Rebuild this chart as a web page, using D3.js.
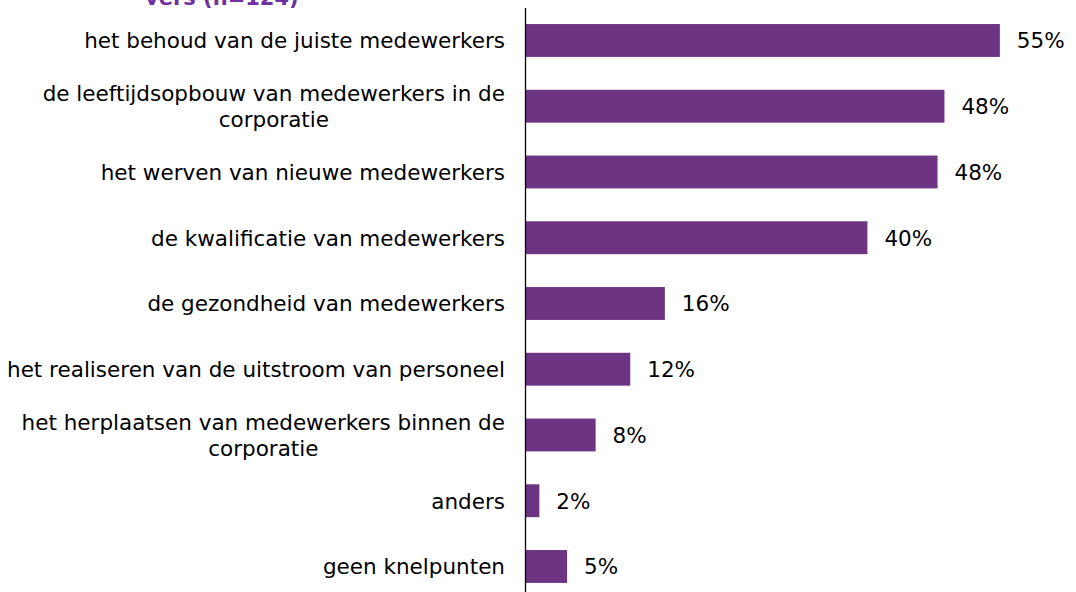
<!DOCTYPE html>
<html>
<head>
<meta charset="utf-8">
<script src="https://cdn.jsdelivr.net/npm/d3@7"></script>
<style>
  html, body { margin: 0; padding: 0; background: #ffffff; }
  svg { display: block; }
</style>
</head>
<body>
<svg id="chart" width="1076" height="592"></svg>
<script>
// Knelpunten personeelsbeleid, percentage van corporaties
const categories = [
  "het behoud van de juiste medewerkers",
  "de leeftijdsopbouw van medewerkers in de corporatie",
  "het werven van nieuwe medewerkers",
  "de kwalificatie van medewerkers",
  "de gezondheid van medewerkers",
  "het realiseren van de uitstroom van personeel",
  "het herplaatsen van medewerkers binnen de corporatie",
  "anders",
  "geen knelpunten"
];
const percentages = [54.8, 48.4, 47.6, 39.5, 16.1, 12.1, 8.1, 1.6, 4.8];
const titleTail = "vers (n=124)";

const W = 1076, H = 592;
const barColor = "#6c3483";
const titleColor = "#7030a0";
const fontFamily = "'DejaVu Sans', Verdana, sans-serif";
const fontSize = 21.5;

const svg = d3.select("#chart");

const axisX = 525.5;
const x = d3.scaleLinear().domain([0, 60]).range([axisX, axisX + 60 * 8.656]);
const y = d3.scaleBand().domain(categories).range([7.6, 7.6 + 9 * 65.75]).paddingInner(0.5).paddingOuter(0.25);

// title line, running off the top edge
svg.append("text")
  .attr("x", 145).attr("y", 5)
  .attr("font-family", fontFamily).attr("font-size", 21).attr("font-weight", "bold")
  .attr("fill", titleColor)
  .text(titleTail);

// bars
svg.selectAll("rect.bar").data(categories).join("rect")
  .attr("class", "bar")
  .attr("x", x(0))
  .attr("y", d => y(d))
  .attr("width", (d, i) => x(percentages[i]) - x(0))
  .attr("height", y.bandwidth())
  .attr("fill", barColor);

// vertical category axis line
svg.append("line")
  .attr("x1", axisX).attr("x2", axisX)
  .attr("y1", 8).attr("y2", H)
  .attr("stroke", "#000").attr("stroke-width", 1.3);

// value labels
const fmt = v => Math.round(v) + "%";
svg.selectAll("text.val").data(categories).join("text")
  .attr("class", "val")
  .attr("x", (d, i) => x(percentages[i]) + 17)
  .attr("y", d => y(d) + y.bandwidth() / 2 + 8)
  .attr("font-family", fontFamily).attr("font-size", fontSize)
  .attr("fill", "#000")
  .text((d, i) => fmt(percentages[i]));

// category labels, wrapped and centred within a right-aligned block
const labelRight = 505;
const maxLine = 505;
const lineH = 26;
const measure = svg.append("text").attr("font-family", fontFamily).attr("font-size", fontSize).attr("visibility", "hidden");
function width(s) { measure.text(s); return measure.node().getComputedTextLength(); }

categories.forEach(cat => {
  const words = cat.split(" ");
  const lines = [];
  let cur = "";
  words.forEach(w => {
    const t = cur ? cur + " " + w : w;
    if (width(t) > maxLine && cur) { lines.push(cur); cur = w; } else { cur = t; }
  });
  lines.push(cur);
  const blockW = d3.max(lines, width);
  const cx = labelRight - blockW / 2;
  const cy = y(cat) + y.bandwidth() / 2;
  const first = cy - (lines.length - 1) * lineH / 2 + 8;
  const g = svg.append("text")
    .attr("font-family", fontFamily).attr("font-size", fontSize)
    .attr("fill", "#000").attr("text-anchor", "middle");
  lines.forEach((ln, k) => {
    g.append("tspan").attr("x", cx).attr("y", first + k * lineH).text(ln);
  });
});
measure.remove();
</script>
</body>
</html>
